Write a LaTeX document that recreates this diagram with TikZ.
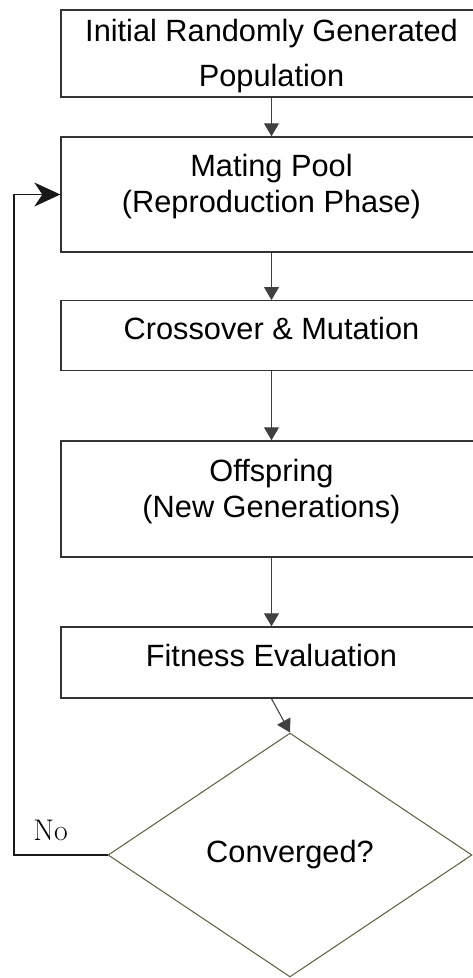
\documentclass[tikz,border=0pt]{standalone}
\usepackage{fontspec}
\setsansfont{Liberation Sans}
\usepackage{tikz}
\usetikzlibrary{arrows.meta,shapes.geometric,positioning,calc}

\tikzset{
  box/.style={draw=black!80, line width=0.8pt, rectangle, minimum width=8.42cm, inner sep=0pt},
  boxtext/.style={font=\fontsize{17.5}{20.5}\sffamily\selectfont, align=center, inner sep=0pt},
  flow/.style={draw=black!75, line width=0.6pt, -{Triangle[length=0.26cm,width=0.3cm]}},
  backflow/.style={draw=black!90, line width=0.6pt, -{Stealth[length=0.52cm,width=0.48cm,inset=0.16cm]}}
}

\begin{document}
\begin{tikzpicture}[x=0.02cm, y=-0.02cm]
			\useasboundingbox (0,0) rectangle (473,978);

			% Steps of the loop
			\node[box, minimum height=1.74cm] (init) at (271.5,53.5) {};
			\node[boxtext] (initText) at (271.5,55.8) {Initial Randomly Generated\\[0.18cm]Population};

			\node[box, minimum height=2.3cm] (pool) at (271.5,194.5) {};
			\node[boxtext] (poolText) at (271.5,187) {Mating Pool\\(Reproduction Phase)};

			\node[box, minimum height=1.39cm] (cross) at (271.5,335.5) {};
			\node[boxtext] (crossText) at (271.5,329) {Crossover \& Mutation};

			\node[box, minimum height=2.32cm] (offspring) at (271.5,499) {};
			\node[boxtext] (offspringText) at (271.5,491.8) {Offspring\\(New Generations)};

			\node[box, minimum height=1.42cm] (fitness) at (271.5,662.5) {};
			\node[boxtext] (fitnessText) at (271.5,656) {Fitness Evaluation};

			% Decision
			\node[diamond, draw=black!70!yellow, line width=0.6pt, minimum width=7.28cm, minimum height=4.88cm,
			      inner sep=0pt, font=\fontsize{17.5}{20.5}\sffamily\selectfont] (conv) at (290,855) {Converged?};

			% Arrows down
			\draw[flow] (init.south) -- (pool.north);
			\draw[flow] (pool.south) -- (cross.north);
			\draw[flow] (cross.south) -- (offspring.north);
			\draw[flow] (offspring.south) -- (fitness.north);
			\draw[flow] (fitness.south) -- (conv.north);

			% Back to the mating pool
			\coordinate (loopCorner) at (14,194.5);
			\draw[backflow] (conv.west) -| (loopCorner) -- (pool.west);
			\node[font=\fontsize{17}{20}\selectfont, anchor=base west, inner sep=0pt] (no) at (33,840) {No};
		\end{tikzpicture}
\end{document}
